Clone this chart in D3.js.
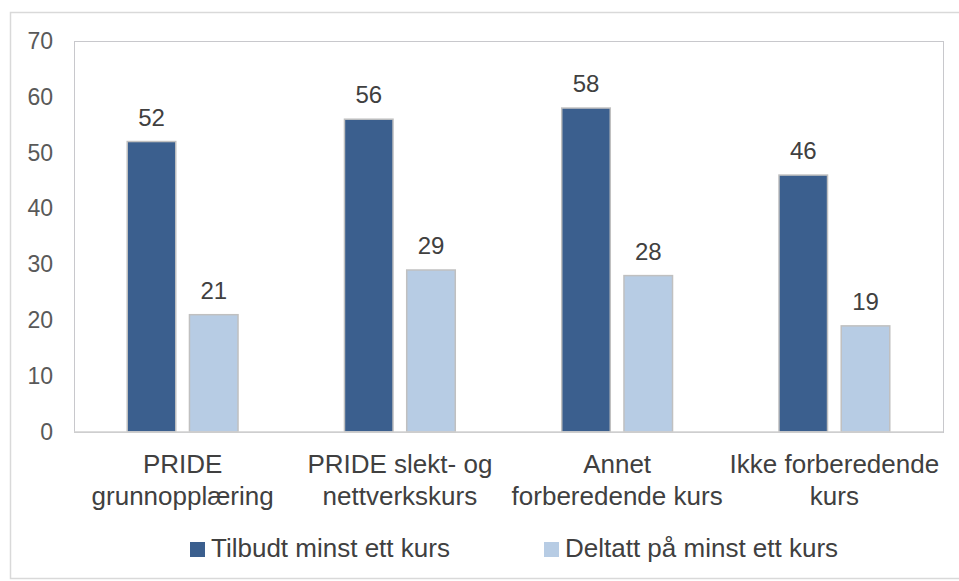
<!DOCTYPE html>
<html>
<head>
<meta charset="utf-8">
<script src="https://cdn.jsdelivr.net/npm/d3@7"></script>
<style>
  body { margin: 0; background: #fff; }
  text { font-family: "Liberation Sans", Arial, sans-serif; }
</style>
</head>
<body>
<div id="chart"></div>
<script>
// chart data
const categories = [
    ['PRIDE', 'grunnopplæring'],
    ['PRIDE slekt- og', 'nettverkskurs'],
    ['Annet', 'forberedende kurs'],
    ['Ikke forberedende', 'kurs']
];
const seriesNames = ['Tilbudt minst ett kurs', 'Deltatt på minst ett kurs'];
const offered = [52, 56, 58, 46];
const attended = [21, 29, 28, 19];
const yTicks = [0, 10, 20, 30, 40, 50, 60, 70];
const colors = ['#3b5f8e', '#b7cce4'];

const width = 959, height = 581;
const margin = { top: 41, right: 16, bottom: 149, left: 74 };

const svg = d3.select('#chart')
    .append('svg')
    .attr('width', width)
    .attr('height', height);

// outer frame
svg.append('rect')
    .attr('x', 10.5).attr('y', 12.5)
    .attr('width', 960).attr('height', 566)
    .attr('fill', 'none')
    .attr('stroke', '#d9d9d9')
    .attr('stroke-width', 1.5);

const x0 = d3.scaleBand()
    .domain(d3.range(categories.length))
    .range([margin.left, width - margin.right])
    .paddingInner(0.49)
    .paddingOuter(0.245);

const x1 = d3.scaleBand()
    .domain([0, 1])
    .range([0, x0.bandwidth()])
    .paddingInner(0.22)
    .paddingOuter(0);

const y = d3.scaleLinear()
    .domain([0, 70])
    .range([height - margin.bottom, margin.top]);

// plot area frame
svg.append('rect')
    .attr('x', margin.left + 0.5)
    .attr('y', margin.top + 0.5)
    .attr('width', width - margin.right - margin.left)
    .attr('height', height - margin.bottom - margin.top)
    .attr('fill', 'none')
    .attr('stroke', '#c8c8cc')
    .attr('stroke-width', 1);

// y axis labels
const yAxis = d3.axisLeft(y).tickValues(yTicks).tickSize(0).tickPadding(21);
const gy = svg.append('g')
    .attr('transform', `translate(${margin.left},0)`)
    .call(yAxis);
gy.select('.domain').remove();
gy.selectAll('text')
    .attr('font-size', 23)
    .attr('fill', '#595959')
    .style('font-family', '"Liberation Sans", Arial, sans-serif');

const series = [offered, attended];

categories.forEach((cat, i) => {
    const g = svg.append('g').attr('transform', `translate(${x0(i)},0)`);
    series.forEach((vals, s) => {
        g.append('rect')
            .attr('x', x1(s))
            .attr('y', y(vals[i]))
            .attr('width', x1.bandwidth())
            .attr('height', y(0) - y(vals[i]))
            .attr('fill', colors[s])
            .attr('stroke', '#c0c0c0')
            .attr('stroke-width', 1.5);
        g.append('text')
            .attr('x', x1(s) + x1.bandwidth() / 2)
            .attr('y', y(vals[i]) - 16)
            .attr('text-anchor', 'middle')
            .attr('font-size', 24)
            .attr('fill', '#404040')
            .text(vals[i]);
    });
});

// baseline
svg.append('line')
    .attr('x1', margin.left).attr('x2', width - margin.right)
    .attr('y1', y(0)).attr('y2', y(0))
    .attr('stroke', '#d0d0d0')
    .attr('stroke-width', 1.5);

// category labels
categories.forEach((lines, i) => {
    const t = svg.append('text')
        .attr('x', x0(i) + x0.bandwidth() / 2)
        .attr('y', y(0) + 41)
        .attr('text-anchor', 'middle')
        .attr('font-size', 26)
        .attr('fill', '#404040');
    lines.forEach((ln, k) => {
        t.append('tspan')
            .attr('x', x0(i) + x0.bandwidth() / 2)
            .attr('dy', k === 0 ? 0 : 32)
            .text(ln);
    });
});

// legend
const legendX = [190, 544];
seriesNames.forEach((name, s) => {
    const lg = svg.append('g').attr('transform', `translate(${legendX[s]},557)`);
    lg.append('rect')
        .attr('x', 0).attr('y', -15)
        .attr('width', 15).attr('height', 15)
        .attr('fill', colors[s]);
    lg.append('text')
        .attr('x', 21).attr('y', 0)
        .attr('font-size', 26)
        .attr('fill', '#404040')
        .text(name);
});
</script>
</body>
</html>
